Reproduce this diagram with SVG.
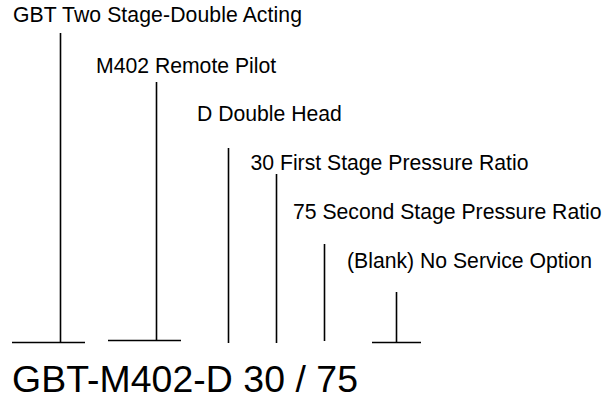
<svg xmlns="http://www.w3.org/2000/svg" width="616" height="400" viewBox="0 0 616 400">
<style>
.lbl{font-family:"Liberation Sans",Arial,sans-serif;font-size:21.2px;fill:#000}
.code{font-family:"Liberation Sans",Arial,sans-serif;font-size:37.4px;fill:#000}
.ln{stroke:#000;stroke-width:1.6;fill:none}
</style>
<rect width="616" height="400" fill="#fff"/>
<g id="connectors">
<line class="ln" x1="60.5" y1="33" x2="60.5" y2="342.5"/>
<line class="ln" x1="12" y1="342.5" x2="85" y2="342.5"/>
<line class="ln" x1="156.5" y1="82" x2="156.5" y2="340.5"/>
<line class="ln" x1="108" y1="340.5" x2="181" y2="340.5"/>
<line class="ln" x1="228.5" y1="148" x2="228.5" y2="343"/>
<line class="ln" x1="276.5" y1="174" x2="276.5" y2="343"/>
<line class="ln" x1="324.5" y1="244" x2="324.5" y2="341"/>
<line class="ln" x1="396.5" y1="292" x2="396.5" y2="342.5"/>
<line class="ln" x1="372" y1="342.5" x2="421" y2="342.5"/>
</g>
<g id="node-gbt"><text class="lbl" x="13" y="22" textLength="289" lengthAdjust="spacing">GBT Two Stage-Double Acting</text></g>
<g id="node-m402"><text class="lbl" x="96" y="73">M402 Remote Pilot</text></g>
<g id="node-d"><text class="lbl" x="197" y="121">D Double Head</text></g>
<g id="node-30"><text class="lbl" x="250.5" y="170">30 First Stage Pressure Ratio</text></g>
<g id="node-75"><text class="lbl" x="293" y="219">75 Second Stage Pressure Ratio</text></g>
<g id="node-blank"><text class="lbl" x="347" y="268">(Blank) No Service Option</text></g>
<g id="node-code"><text class="code" x="12" y="392" textLength="346" lengthAdjust="spacing">GBT-M402-D 30 / 75</text></g>
</svg>
